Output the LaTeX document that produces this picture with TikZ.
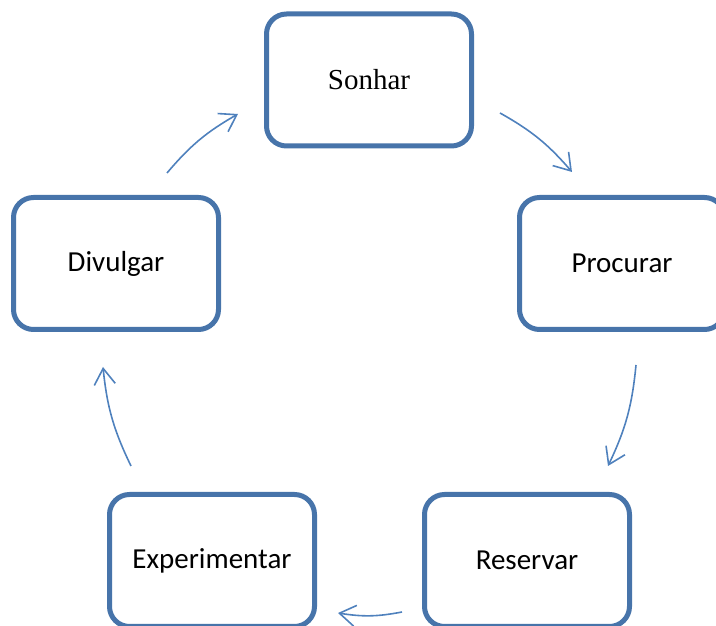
\documentclass[tikz,border=0pt]{standalone}
\usepackage{fontspec}
\setmainfont{Carlito}
\newfontfamily\serifface{Liberation Serif}
\usetikzlibrary{arrows.meta}

\definecolor{boxblue}{RGB}{71,116,170}
\definecolor{arrowblue}{RGB}{79,129,189}

\begin{document}
\begin{tikzpicture}[
    x=1pt, y=1pt,
    stage/.style={rectangle, draw=boxblue, rounded corners=20pt, line width=5pt, align=center, minimum width=205pt, minimum height=132pt, fill=white, font=\fontsize{29pt}{34pt}\selectfont},
    arrow/.style={-{Straight Barb[length=16pt, width=21pt]}, draw=arrowblue, line width=1.6pt, bend left=10}
]
\useasboundingbox (0,0) rectangle (716,626);

\node[stage, font=\serifface\fontsize{29pt}{34pt}\selectfont] (sonhar) at (369, 546) {Sonhar};
\node[stage] (procurar)     at (622, 362.5) {Procurar};
\node[stage] (reservar)     at (527, 65.5)  {Reservar};
\node[stage] (experimentar) at (212, 65.5)  {Experimentar};
\node[stage] (divulgar)     at (116, 362.5) {Divulgar};

% Edges
\draw[arrow] ([shift={(131,-33)}]sonhar.center)      to ([shift={(-50,91.5)}]procurar.center);
\draw[arrow] ([shift={(14,-101.5)}]procurar.center)  to ([shift={(81,94.5)}]reservar.center);
\draw[arrow] ([shift={(-125,-51.5)}]reservar.center) to ([shift={(126,-52.5)}]experimentar.center);
\draw[arrow] ([shift={(-81,94.5)}]experimentar.center) to ([shift={(-13,-103.5)}]divulgar.center);
\draw[arrow] ([shift={(51,90.5)}]divulgar.center)    to ([shift={(-131,-34)}]sonhar.center);

\end{tikzpicture}
\end{document}
